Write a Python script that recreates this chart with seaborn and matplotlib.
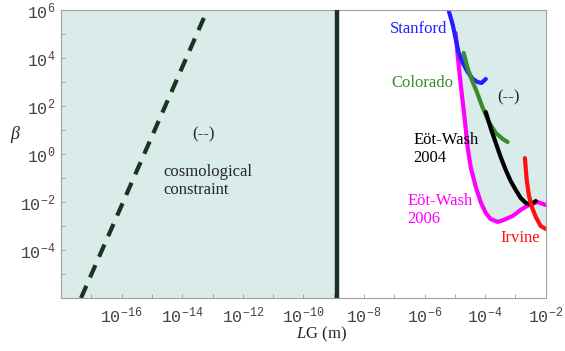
import numpy as np
import matplotlib
matplotlib.use("Agg")
import matplotlib.pyplot as plt
import seaborn as sns

# values, as log10 exponents
stanford_lx = [-5.21, -5.07, -4.98, -4.88, -4.74, -4.58, -4.41, -4.25, -4.12, -3.98]
stanford_ly = [6.0, 5.375, 4.83, 4.25, 3.79, 3.42, 3.125, 3.0, 2.96, 3.125]

colorado_lx = [-4.71, -4.58, -4.48, -4.28, -4.08, -3.88, -3.65, -3.42, -3.26]
colorado_ly = [4.21, 3.58, 3.21, 2.6, 1.92, 1.33, 0.875, 0.625, 0.5]

ew2004_lx = [-3.98, -3.82, -3.65, -3.49, -3.32, -3.16, -2.99, -2.83, -2.66, -2.50, -2.33]
ew2004_ly = [1.75, 1.08, 0.46, -0.125, -0.67, -1.125, -1.5, -1.83, -2.04, -2.1, -1.96]

ew2006_lx = [-4.975, -4.91, -4.84, -4.78, -4.71, -4.645, -4.58, -4.48, -4.31, -4.15,
             -3.98, -3.82, -3.59, -3.39, -3.09, -2.83, -2.56, -2.27, -2.0]
ew2006_ly = [5.04, 4.125, 3.29, 2.58, 1.83, 1.08, 0.29, -0.54, -1.375, -2.0,
             -2.46, -2.71, -2.83, -2.75, -2.58, -2.33, -2.125, -2.0, -2.125]

irvine_lx = [-2.69, -2.63, -2.56, -2.46, -2.33, -2.17, -2.0]
irvine_ly = [-0.17, -1.08, -1.71, -2.21, -2.625, -3.0, -3.125]

cosmo_lx = [-17.34, -13.17]
cosmo_ly = [-6.0, 6.0]

wall_lx = -8.88

xtick_exp = [-16, -14, -12, -10, -8, -6, -4, -2]
ytick_exp = [-4, -2, 0, 2, 4, 6]

SHADE = "#d9ecea"
DARK = "#1b3320"

plt.rcParams["mathtext.fontset"] = "custom"
plt.rcParams["mathtext.rm"] = "Liberation Mono"
plt.rcParams["mathtext.it"] = "Liberation Serif:italic"
plt.rcParams["mathtext.default"] = "rm"

sns.set_style("white")

fig = plt.figure(figsize=(5.65, 3.51), dpi=100)
ax = fig.add_axes([0.108, 0.151, 0.858, 0.8205])
ax.set_xscale("log")
ax.set_yscale("log")
ax.set_xlim(1e-18, 1e-2)
ax.set_ylim(1e-6, 1e6)

# shaded regions: left of the wall, and the excluded area above the curves
ax.axvspan(1e-18, 10 ** wall_lx, color=SHADE, lw=0, zorder=0)
poly_x = stanford_lx[:2] + ew2006_lx[:16] + irvine_lx[3:] + [-2.0]
poly_y = stanford_ly[:2] + ew2006_ly[:16] + irvine_ly[3:] + [6.0]
ax.fill(10 ** np.array(poly_x), 10 ** np.array(poly_y), color=SHADE, lw=0, zorder=0)

ax.axvline(10 ** wall_lx, color=DARK, lw=3.2, zorder=3)

sns.lineplot(x=10 ** np.array(cosmo_lx), y=10 ** np.array(cosmo_ly), ax=ax, color=DARK,
             lw=3, sort=False, estimator=None, dashes=False, linestyle=(0, (3.2, 2.2)))

curves = [
    (ew2006_lx, ew2006_ly, "#ff00ff"),
    (stanford_lx, stanford_ly, "#1f1fff"),
    (colorado_lx, colorado_ly, "#3a8a2e"),
    (ew2004_lx, ew2004_ly, "black"),
    (irvine_lx, irvine_ly, "#ff1010"),
]
for lx, ly, c in curves:
    sns.lineplot(x=10 ** np.array(lx), y=10 ** np.array(ly), ax=ax, color=c, lw=3,
                 sort=False, estimator=None, solid_capstyle="round", solid_joinstyle="round")

txt = dict(family="Liberation Serif", fontsize=12)
ax.text(10 ** -13.31, 10 ** 0.83, "(--)", ha="center", va="center", **txt)
ax.text(10 ** -14.63, 10 ** -1.125, "cosmological\nconstraint", ha="left", va="center",
        linespacing=1.15, **txt)
ax.text(10 ** -5.24, 10 ** 5.2, "Stanford", ha="right", va="center", color="#1f1fff", **txt)
ax.text(10 ** -5.04, 10 ** 2.96, "Colorado", ha="right", va="center", color="#3a8a2e", **txt)
ax.text(10 ** -3.22, 10 ** 2.375, "(--)", ha="center", va="center", **txt)
ax.text(10 ** -6.36, 10 ** 0.21, "Eöt-Wash\n2004", ha="left", va="center",
        linespacing=1.15, color="black", **txt)
ax.text(10 ** -6.56, 10 ** -2.33, "Eöt-Wash\n2006", ha="left", va="center",
        linespacing=1.15, color="#ff00ff", **txt)
ax.text(10 ** -2.83, 10 ** -3.5, "Irvine", ha="center", va="center", color="#ff1010", **txt)

ax.xaxis.set_major_locator(matplotlib.ticker.FixedLocator([10.0 ** e for e in xtick_exp]))
ax.xaxis.set_major_formatter(matplotlib.ticker.FixedFormatter(
    ["$10^{%d}$" % e for e in xtick_exp]))
ax.yaxis.set_major_locator(matplotlib.ticker.FixedLocator([10.0 ** e for e in ytick_exp]))
ax.yaxis.set_major_formatter(matplotlib.ticker.FixedFormatter(
    ["$10^{%d}$" % e for e in ytick_exp]))
ax.xaxis.set_minor_locator(matplotlib.ticker.FixedLocator([10.0 ** e for e in range(-17, -2, 2)]))
ax.yaxis.set_minor_locator(matplotlib.ticker.FixedLocator([10.0 ** e for e in range(-5, 6, 2)]))
ax.xaxis.set_minor_formatter(matplotlib.ticker.NullFormatter())
ax.yaxis.set_minor_formatter(matplotlib.ticker.NullFormatter())
ax.tick_params(which="both", direction="in", length=3, width=0.6, color="#999999",
               labelsize=12, labelcolor="#444444", bottom=True, left=True)
ax.tick_params(axis="x", pad=6)
ax.tick_params(axis="y", pad=4)

for s in ax.spines.values():
    s.set_color("#a0a0a0")
    s.set_linewidth(0.8)

ax.set_xlabel("$\\mathit{L}$G (m)", family="Liberation Serif", fontsize=12)
ax.xaxis.set_label_coords(0.538, -0.092)
ax.text(-0.095, 0.566, "β", transform=ax.transAxes, ha="center", va="center",
        family="Liberation Serif", style="italic", fontsize=13)

fig.savefig("out.png", dpi=100)
